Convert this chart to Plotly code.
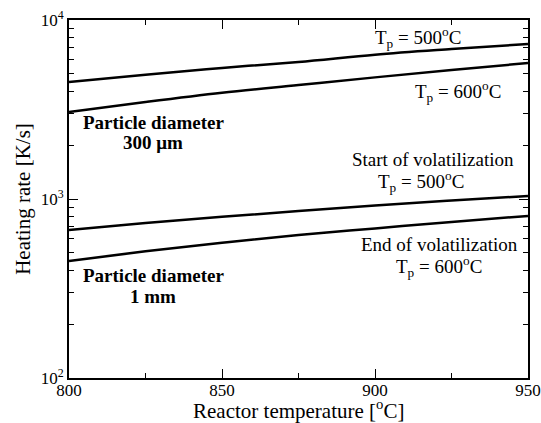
import math
import plotly.graph_objects as go

temps = [800, 825, 850, 875, 900, 925, 950]
d300_tp500 = [4510, 4950, 5400, 5830, 6400, 6880, 7350]
d300_tp600 = [3060, 3480, 3920, 4330, 4780, 5260, 5750]
d1mm_tp500 = [671, 735, 795, 857, 920, 980, 1040]
d1mm_tp600 = [451, 510, 570, 630, 685, 745, 804]

y_major = [100, 1000, 10000]
y_major_text = ["10<sup>2</sup>", "10<sup>3</sup>", "10<sup>4</sup>"]
y_minor = [m * 10 ** e for e in (2, 3) for m in range(2, 10)]
x_major = [800, 850, 900, 950]
x_minor = [825, 875, 925]

FONT = "Times New Roman"

fig = go.Figure()
for ys in (d300_tp500, d300_tp600, d1mm_tp500, d1mm_tp600):
    fig.add_trace(go.Scatter(x=temps, y=ys, mode="lines",
                             line=dict(color="black", width=2.5, shape="spline", smoothing=1.0),
                             showlegend=False, hoverinfo="skip"))

ann = [
    (914, 8000, "T<sub>p</sub> = 500<sup>o</sup>C", False),
    (927, 4000, "T<sub>p</sub> = 600<sup>o</sup>C", False),
    (827.5, 2692, "Particle diameter", True),
    (827.5, 2056, "300 μm", True),
    (919, 1660, "Start of volatilization", False),
    (915, 1250, "T<sub>p</sub> = 500<sup>o</sup>C", False),
    (921, 557, "End of volatilization", False),
    (921, 420, "T<sub>p</sub> = 600<sup>o</sup>C", False),
    (827.5, 372, "Particle diameter", True),
    (827.5, 287, "1 mm", True),
]
for x, y, t, bold in ann:
    fig.add_annotation(x=x, y=math.log10(y), text=f"<b>{t}</b>" if bold else t,
                       showarrow=False,
                       font=dict(family=FONT, size=19, color="black"),
                       xanchor="center", yanchor="middle", align="center")

# x-axis title placed as a paper-anchored annotation
fig.add_annotation(x=0.5, y=-0.088, xref="paper", yref="paper",
                   text="Reactor temperature [<sup>o</sup>C]", showarrow=False,
                   xanchor="center", yanchor="middle",
                   font=dict(family=FONT, size=21, color="black"))

fig.update_xaxes(range=[800, 950], tickmode="array", tickvals=x_major,
                 ticks="inside", ticklen=9, tickwidth=1.2, tickcolor="black",
                 showline=True, linecolor="black", linewidth=2, mirror="ticks",
                 showgrid=False, zeroline=False, automargin=False,
                 ticklabelstandoff=-4,
                 minor=dict(tickmode="array", tickvals=x_minor, ticks="inside",
                            ticklen=5, tickwidth=1.2, tickcolor="black", showgrid=False),
                 tickfont=dict(family=FONT, size=17, color="black"))
fig.update_yaxes(type="log", range=[2, 4], tickmode="array", tickvals=y_major,
                 ticktext=y_major_text,
                 ticks="inside", ticklen=9, tickwidth=1.2, tickcolor="black",
                 showline=True, linecolor="black", linewidth=2, mirror="ticks",
                 showgrid=False, zeroline=False, automargin=False,
                 minor=dict(tickmode="array", tickvals=y_minor, ticks="inside",
                            ticklen=5, tickwidth=1.2, tickcolor="black", showgrid=False),
                 tickfont=dict(family=FONT, size=17, color="black"),
                 title=dict(text="Heating rate [K/s]", standoff=4,
                            font=dict(family=FONT, size=21, color="black")))

fig.update_layout(width=541, height=423, margin=dict(l=69, r=13, t=20, b=45),
                  paper_bgcolor="white", plot_bgcolor="white",
                  font=dict(family=FONT, color="black"))
fig.write_html("out.html")
